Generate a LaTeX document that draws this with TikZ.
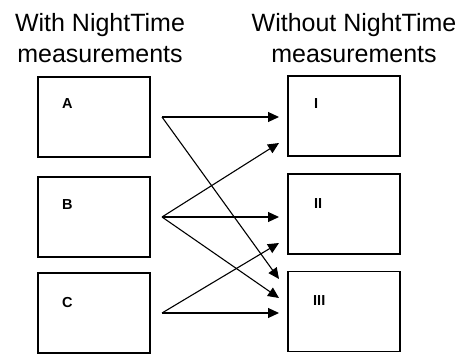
\documentclass[tikz,border=0pt]{standalone}
\usepackage{fontspec}
\setmainfont{Liberation Sans}
\usetikzlibrary{arrows.meta}
\begin{document}
\begin{tikzpicture}[x=1pt,y=-1pt,
  box/.style={draw,line width=1.2pt,minimum width=112pt,minimum height=80pt,inner sep=0pt},
  lbl/.style={font=\fontsize{14.5}{14.5}\selectfont\bfseries,anchor=base west,inner sep=0pt},
  head/.style={font=\fontsize{25}{31}\selectfont,align=center},
  arr/.style={line width=1.1pt,-{Triangle[length=11pt,width=10pt]}}]
\useasboundingbox (0,0) rectangle (465,355);
\node[head] (h1) at (100,38) {With NightTime\\measurements};
\node[head] (h2) at (354,38) {Without NightTime\\measurements};
\node[box] (A) at (94,117) {};
\node[box] (B) at (94,217) {};
\node[box] (C) at (94,313) {};
\node[box] (I) at (344,116) {};
\node[box] (II) at (344,214) {};
\node[box] (III) at (344,311.5) {};
\node[lbl] (la) at (62,109) {A};
\node[lbl] (lb) at (62,210) {B};
\node[lbl] (lc) at (62,307) {C};
\node[lbl] (li) at (314,109) {I};
\node[lbl] (lii) at (314,208) {II};
\node[lbl] (liii) at (313,305) {III};
\coordinate (sA) at (162,117);
\coordinate (sB) at (162,217);
\coordinate (sC) at (162,313);
\coordinate (tI1) at (279,117);
\coordinate (tI2) at (279,143);
\coordinate (tII1) at (279,217);
\coordinate (tII2) at (279,243);
\coordinate (tIII1) at (279,279);
\coordinate (tIII2) at (279,298);
\coordinate (tIII3) at (279,313);
\draw[arr] (sA) -- (tI1);
\draw[arr] (sA) -- (tIII1);
\draw[arr] (sB) -- (tI2);
\draw[arr] (sB) -- (tII1);
\draw[arr] (sB) -- (tIII2);
\draw[arr] (sC) -- (tII2);
\draw[arr] (sC) -- (tIII3);
\end{tikzpicture}
\end{document}
